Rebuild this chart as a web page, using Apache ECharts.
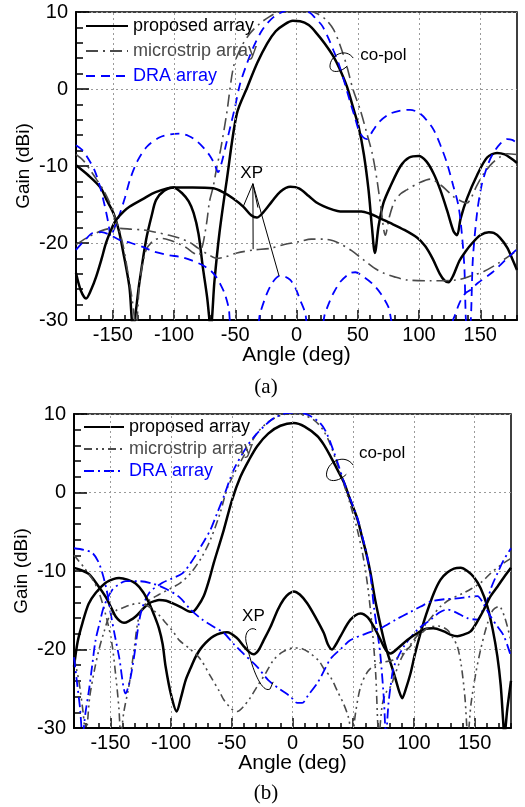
<!DOCTYPE html>
<html><head><meta charset="utf-8">
<script src="https://cdn.jsdelivr.net/npm/echarts@6/dist/echarts.min.js"></script>
<style>html,body{margin:0;padding:0;background:#fff}#c{width:525px;height:807px}</style>
</head><body><div id="c"></div>
<script>
// ---------- tick labels ----------
const xGridVals = [-150, -100, -50, 0, 50, 100, 150];
const legendNames = ['proposed array', 'microstrip array', 'DRA array'];

// ---------- (a) data : [angle deg, gain dBi] ----------
const aPropCo = [[-180,-9.9],[-170,-11.2],[-160,-12.8],[-155,-14.4],[-149.5,-16.1],[-145,-18.4],[-141.8,-20.9],[-136.4,-25.7],[-133.5,-31],[-128.3,-25.2],[-122.8,-19.6],[-118,-16.3],[-114.6,-14.4],[-108,-13.2],[-100.5,-12.8],[-93,-13.6],[-88,-14.6],[-84,-16.1],[-80,-18.8],[-76.5,-23.1],[-73,-27],[-70,-31],[-67,-25],[-62.9,-18.7],[-56.9,-11.8],[-48.7,-3.2],[-40,0.3],[-32,3.4],[-24,5.9],[-17,7.5],[-10.6,8.3],[-3,8.85],[3,8.8],[10,8.3],[16.6,7.2],[23,5.9],[30.2,4.2],[35,2.7],[41.2,0.3],[46,-2.3],[50.7,-4.9],[55,-8.5],[58.8,-13.1],[61.5,-17.8],[64,-21.3],[67,-17.8],[71,-14.8],[76.5,-12.7],[85,-10],[92,-8.9],[99.7,-8.7],[106,-9.4],[112,-11],[117.4,-13.1],[123,-15.8],[128,-18.4],[131,-19.0],[134,-16.8],[139.2,-14.2],[147.4,-11.2],[155.6,-8.9],[163.7,-8.3],[170,-8.5],[175,-9],[180,-9.6]];
const aPropXp = [[-180,-23.9],[-176,-26.2],[-171.8,-27.2],[-167.5,-26],[-163.6,-24.4],[-159,-22],[-155.5,-20],[-150,-17.8],[-147.3,-17],[-141,-15.9],[-136.4,-15.3],[-125.5,-14.3],[-115,-13.4],[-100.5,-12.8],[-85,-12.8],[-68,-12.9],[-60,-13.4],[-52,-14.2],[-43.3,-15.3],[-37,-16.4],[-32.4,-16.7],[-27,-16],[-20,-14.6],[-13,-13.3],[-5,-12.7],[2,-12.9],[10,-13.9],[16,-14.7],[22,-15.2],[30,-15.7],[35.7,-15.9],[45,-15.9],[53,-15.9],[60,-16.2],[67,-16.7],[76.5,-17.4],[88,-18.3],[98.3,-19.3],[105,-20.4],[111,-22],[117,-24],[121,-24.9],[124,-25.1],[128,-24.2],[133,-22.3],[138,-21.1],[143,-20.1],[150,-19],[157,-18.6],[161,-18.7],[166,-19.3],[172,-20.6],[176,-22],[180,-23.5]];
const aMicroCo = [[-180,-8.5],[-174,-9.3],[-168.5,-10.5],[-163,-11.8],[-157.7,-13.1],[-153,-14.6],[-149.5,-16.1],[-145,-18.2],[-141.3,-20.5],[-137,-24.5],[-134,-27.5],[-131,-31],[-128,-25],[-123,-21],[-117,-19.7],[-111,-19.4],[-104,-19.6],[-96,-20.1],[-90,-20.6],[-84,-21.3],[-80,-21.6],[-77,-20.5],[-75,-19],[-73,-17],[-71,-14.6],[-68,-12.7],[-65,-10.1],[-62,-7.9],[-57,-3.2],[-51.4,2.9],[-45,5.5],[-38,7.2],[-30,8.5],[-22,9.4],[-15,10],[-8,10.4],[5,10.4],[16.7,9.8],[24,9],[30.3,7.7],[36,5.5],[41.2,2.9],[46,0],[52,-2.7],[57.5,-5.8],[62,-8.5],[65.7,-11.8],[69,-15.5],[72.5,-19],[76,-16.5],[80,-14.6],[85,-13.6],[90,-13.1],[100,-12.2],[109.2,-11.7],[118,-12.5],[128.3,-14],[135,-14.6],[139.2,-14.8],[143,-14],[147,-12.6],[152.8,-11],[160,-9.6],[166.4,-8.8],[172,-8.4],[180,-8.5]];
const aMicroXp = [[-180,-20.2],[-172,-19.4],[-163.6,-18.7],[-155,-18.2],[-144.6,-18.1],[-135,-18.2],[-125.5,-18.3],[-115,-18.6],[-103.8,-19],[-95,-19.4],[-87.4,-19.9],[-80,-20.7],[-71,-21.6],[-65,-22],[-58,-21.8],[-48.7,-21.3],[-35,-20.9],[-21.5,-20.7],[-10,-20.2],[3,-19.8],[12,-19.5],[22,-19.5],[30,-19.7],[35.7,-20.1],[45,-21],[54.8,-22.2],[63,-23.2],[71,-23.9],[80,-24.4],[90,-24.8],[109,-24.9],[131,-24.8],[142,-24.3],[152.8,-23.7],[165,-22.6],[180,-21]];
const aDraCo = [[-180,-7.3],[-175,-7.9],[-171,-8.8],[-165,-10.5],[-160.4,-12.7],[-156.5,-15.2],[-153.6,-17.4],[-151.5,-19.2],[-149,-18.2],[-146,-17],[-144,-16.1],[-140,-14.1],[-136,-11.8],[-130,-9.4],[-122.2,-7.5],[-112,-6.3],[-103,-5.9],[-95,-5.8],[-88,-6.1],[-82,-6.7],[-76,-7.6],[-71,-8.6],[-67,-9.7],[-64,-10.8],[-61,-9.5],[-57.5,-7.2],[-54,-4.9],[-50,-2.2],[-46,0.7],[-40,3.5],[-35,5.5],[-29,7.4],[-24,8.5],[-19,9.3],[-14,9.8],[-6,10.3],[4,10.3],[11,9.9],[16,9.1],[21,8.2],[26,6.6],[30.2,5.0],[34,3.5],[38.4,1.3],[44,-1.8],[47.5,-3.6],[50.7,-5.3],[54,-6.2],[57.5,-6.5],[62,-5.5],[68,-4.2],[76.5,-3.2],[85,-2.8],[92.7,-2.7],[100,-3.1],[106,-4],[112,-5.3],[118,-7.5],[123,-9.7],[128,-12.6],[132,-15],[134.5,-18],[137,-23],[139,-30.8],[141.5,-30.8],[144,-22],[147.4,-16.1],[151,-12.6],[155.6,-10.1],[160,-8.5],[166.4,-7.1],[172,-6.5],[176,-6.6],[180,-7.0]];
const aDraXp = [[-180,-20.9],[-172,-19.5],[-166.4,-18.7],[-159,-18.6],[-152.8,-18.9],[-144.6,-19.6],[-135,-20],[-125.5,-20.5],[-116.8,-21.1],[-103.8,-21.6],[-94.9,-21.8],[-85,-22.3],[-76.5,-22.9],[-70,-23.6],[-65.6,-24.4],[-62,-25.4],[-58.8,-26.5],[-55.5,-28.3],[-52,-31],[-33,-31],[-29.7,-29.1],[-24,-26.5],[-19,-25],[-14,-24.3],[-9,-24.4],[-5.1,-24.8],[-1,-25.8],[3,-27.4],[7,-29],[10,-31],[20,-31],[23,-29.3],[26.5,-27.8],[30.2,-26.5],[36,-25],[43.9,-23.9],[48,-23.8],[54.8,-24.4],[62,-25.3],[68.4,-26.5],[75,-28.3],[81,-31],[124,-31],[128.3,-29.8],[133,-27.8],[138,-26.5],[141.9,-26.1],[148,-25.2],[160,-23.8],[170,-22.3],[180,-20.8]];

// ---------- (b) data ----------
const bPropCo = [[-180,-9.6],[-174,-9.9],[-167.6,-10.4],[-160,-11.9],[-153.9,-13.3],[-149,-14.8],[-145.7,-15.8],[-142,-16.4],[-138.8,-16.6],[-134,-16.3],[-129.2,-15.8],[-123,-14.8],[-118.1,-14.1],[-113,-13.8],[-109.9,-13.7],[-104,-13.8],[-99,-14.1],[-92,-14.6],[-86,-15.1],[-82.4,-15.2],[-78,-14.5],[-73.1,-13.2],[-69,-11.3],[-64.9,-9.0],[-60,-6.5],[-56.6,-4.75],[-49.7,-0.9],[-42.9,2.0],[-36,4.1],[-29.1,5.9],[-20,7.5],[-10,8.5],[1,8.85],[10,8.4],[20.4,7.2],[25.8,6.1],[31.3,4.6],[36,3.2],[42.3,1.3],[47,-0.7],[53.3,-3.3],[57.5,-5.8],[61,-7.9],[64.3,-10.3],[68,-13.6],[72.5,-16.9],[76.5,-19.5],[80.8,-21.7],[85,-23.8],[88,-25.4],[90.4,-26.2],[93,-25.2],[97.3,-23],[101,-20.5],[105.5,-17.9],[110,-15.6],[116.5,-12.8],[122,-11.1],[127.5,-10.2],[133,-9.7],[138.5,-9.6],[144,-10],[149.5,-10.8],[155,-12.2],[160.5,-14.5],[165,-17.5],[168.8,-20.9],[171.5,-24.5],[173.5,-29],[174.5,-31],[177,-27.5],[180,-24]];
const bPropXp = [[-180,-22.2],[-177,-19],[-173,-16.6],[-168,-14.2],[-162.2,-12.8],[-153.9,-11.5],[-147,-11],[-142.9,-10.9],[-136,-11.1],[-129.2,-11.6],[-123,-12.7],[-118.1,-14.1],[-114,-15.6],[-110,-17.3],[-107,-19.3],[-104.5,-22.2],[-100,-25.8],[-95.4,-27.9],[-92,-26.2],[-88,-23.9],[-84,-22.4],[-79.7,-20.9],[-74.2,-19.6],[-64.9,-18.3],[-53.9,-17.8],[-46,-18.5],[-40.1,-19.6],[-35,-20.4],[-31.9,-20.6],[-28,-20.1],[-24,-18.9],[-18.1,-17.1],[-12,-14.9],[-7.2,-13.6],[-3,-12.9],[1.1,-12.6],[6,-13],[12.1,-14.1],[19,-15.9],[25.8,-17.9],[29,-19.3],[32.5,-20],[36,-19.3],[39.6,-18.3],[47.8,-16.2],[56.1,-15.4],[62,-15.9],[67,-17.1],[72,-18.6],[77,-20.1],[80.8,-20.5],[87,-19.8],[94.6,-18.8],[102,-18],[109,-17.4],[116,-17.3],[124.7,-17.7],[130,-18.1],[135.8,-18.3],[141,-18.1],[146.7,-17.7],[152,-16.5],[157.7,-14.9],[163.2,-13.2],[168.8,-12],[174.2,-10.8],[180,-9.6]];
const bMicroCo = [[-180,-8],[-172,-9.5],[-165,-11],[-160,-12.5],[-154,-15.5],[-149,-19],[-145.5,-23.5],[-143,-27.5],[-141.5,-31],[-139,-28],[-134.6,-24.5],[-130.5,-20],[-126.4,-15.8],[-120,-14],[-110,-13],[-100,-12.2],[-92.3,-11.5],[-84,-10.3],[-75,-8.3],[-67.6,-6],[-60,-2.8],[-53.8,0.5],[-48.4,2.3],[-40,4.7],[-29,7.6],[-20,9.0],[-10,9.8],[0,10.1],[10,9.8],[18,9.2],[25,8.0],[31,6.2],[36,4.0],[42,1.2],[47,-1.2],[53,-4.5],[58,-8],[62,-12],[65.5,-17],[68.5,-23],[71.2,-31],[74,-27],[77,-25.5],[80.8,-24.7],[90,-21],[100,-18.8],[108.2,-17.1],[116,-15.6],[122,-14.5],[130,-13.6],[141,-12.8],[147,-12.3],[155,-11.5],[163.2,-10.3],[172,-9.2],[180,-8.4]];
const bMicroXp = [[-180,-21],[-176,-24],[-172.5,-28],[-170.3,-31],[-167,-26],[-163,-22.5],[-159.4,-20],[-155,-17.6],[-151.1,-15.9],[-145,-15],[-140,-14.7],[-133,-14.3],[-126.4,-14.1],[-120,-14.4],[-115.4,-14.9],[-110,-15.6],[-104.5,-16.6],[-98,-17.8],[-93.4,-18.8],[-84,-20],[-76,-21.2],[-67.6,-23.4],[-60,-25.4],[-56.6,-26.4],[-50,-27.6],[-45.6,-27.9],[-40,-27.2],[-35,-26.2],[-29.1,-24.7],[-22,-23],[-15.4,-21.3],[-8,-20.3],[1.1,-19.8],[8,-19.9],[14.8,-20.5],[22,-21.5],[26,-22.5],[31.3,-23.5],[37,-25.3],[42.3,-27],[46,-28.6],[49.2,-31],[52,-28],[56,-24.8],[62,-22.8],[70,-21.8],[83.5,-21.3],[94.6,-20],[103,-18.5],[111,-17.3],[120,-17],[127.5,-17.5],[132,-18.5],[135.8,-19.6],[139,-22],[142,-26],[144.5,-31],[147,-27],[151,-23],[155,-20],[160,-17],[165,-15],[170,-14.5],[175,-16],[180,-19]];
const bDraCo = [[-180,-7.1],[-172,-7.3],[-164.9,-7.7],[-160,-8.8],[-156.6,-10.3],[-153,-12.5],[-149.8,-15.4],[-146,-18.5],[-142.9,-20.9],[-137.4,-25.6],[-134,-24],[-130.5,-20.9],[-125,-15.4],[-118.1,-12.8],[-107.2,-11.5],[-100,-11],[-90.7,-10.3],[-84,-9],[-78.6,-7.7],[-74,-6.5],[-67.6,-4.75],[-62,-2.6],[-56.6,-0.5],[-48.4,2.9],[-37.4,5.9],[-30,7.4],[-23.7,8.4],[-15,9.5],[-5,10.1],[5,10.2],[14,9.8],[23,8.8],[28,7.6],[34,5.2],[38,3.4],[42.3,1.4],[47,-0.6],[53.3,-3.2],[57.5,-5.6],[61,-7.8],[64.3,-10.6],[67,-14.5],[70,-17.8],[72.5,-20.9],[75.3,-26.4],[77,-31],[79,-27],[80.8,-24.7],[83.5,-22.2],[91.8,-19.6],[102.8,-17.5],[113.8,-16.2],[121,-15.3],[127.5,-14.9],[135,-15.3],[144,-16],[152.3,-16.2],[156,-15.2],[160.5,-13.7],[164,-12],[168.8,-10.3],[174,-8.6],[180,-7.1]];
const bDraXp = [[-180,-21],[-177.3,-24.5],[-175,-27.5],[-173,-31],[-170.5,-28],[-167.6,-25.1],[-165,-22],[-162.2,-18.8],[-158.5,-16.4],[-155.3,-14.5],[-148.4,-12.4],[-142,-11.6],[-137.4,-11.3],[-126.4,-11.3],[-115.4,-11.6],[-104,-12.3],[-93.4,-13.3],[-84,-14.9],[-74.2,-16.2],[-65,-17.1],[-56.6,-17.9],[-48.4,-19.3],[-40,-20.6],[-29.1,-22.2],[-20,-23.9],[-10,-25.1],[-1.6,-26],[4,-26.8],[8,-26.8],[13,-25.8],[20.4,-24.3],[26,-22.7],[31.3,-21.2],[40,-19.9],[47.8,-18.8],[60,-18],[72.5,-17.3],[85,-16.2],[97.3,-15.2],[106,-14.5],[113.8,-13.9],[125,-13.6],[135.8,-13.5],[145,-13.3],[152.3,-13.2],[157,-14.1],[163.2,-15.8],[168.5,-17],[174.2,-18.3],[180,-20.9]];

// ---------- styling ----------
const FONT = '"Liberation Sans", Arial, Helvetica, sans-serif';
const SERIF = '"Liberation Serif", "Times New Roman", serif';
const BLACK = '#000000', GRAY = '#4a4a4a', BLUE = '#0000ff';

const chart = echarts.init(document.getElementById('c'), null, {renderer: 'canvas'});

function mk(name, data, color, width, dash, gi) {
  return {
    type: 'line', name: name, data: data, xAxisIndex: gi * 2, yAxisIndex: gi,
    symbol: 'none', showSymbol: false, smooth: 0.3, clip: true, silent: true, z: 3,
    lineStyle: {color: color, width: width, type: dash}, itemStyle: {color: color},
    emphasis: {disabled: true}
  };
}
function gridLines(gi) {
  return {
    type: 'line', name: 'grid' + gi, data: [], xAxisIndex: gi * 2, yAxisIndex: gi, z: 1, silent: true,
    markLine: {silent: true, symbol: ['none', 'none'], animation: false, label: {show: false},
      lineStyle: {color: '#9a9a9a', type: [2, 3], width: 1},
      data: xGridVals.map(v => ({xAxis: v}))}
  };
}
function xAxes(gi) {
  return [{
    gridIndex: gi, type: 'value', min: -180, max: 180, interval: 10,
    axisLine: {show: true, onZero: false, lineStyle: {color: BLACK, width: 2}},
    axisTick: {show: true, inside: true, length: 5, lineStyle: {color: BLACK, width: 1.5}},
    axisLabel: {formatter: v => (v % 50 === 0 ? String(v) : ''), color: BLACK, fontSize: 20, fontFamily: FONT, margin: 5},
    splitLine: {show: false},
    name: 'Angle (deg)', nameLocation: 'middle', nameGap: 25, nameMoveOverlap: false,
    nameTextStyle: {color: BLACK, fontSize: 21, fontFamily: FONT}
  }, {
    gridIndex: gi, type: 'value', min: -180, max: 180, interval: 10, position: 'bottom',
    axisLine: {show: false, onZero: false},
    axisTick: {show: true, inside: true, length: 10, customValues: xGridVals, lineStyle: {color: BLACK, width: 1.5}},
    axisLabel: {show: false}, splitLine: {show: false}
  }];
}
function yAxis(gi) {
  return {
    gridIndex: gi, type: 'value', min: -30, max: 10, interval: 10,
    axisLine: {show: true, onZero: false, lineStyle: {color: BLACK, width: 2}},
    axisTick: {show: true, inside: true, length: 13, lineStyle: {color: BLACK, width: 1.5}},
    minorTick: {show: true, splitNumber: 5, length: 7, lineStyle: {color: BLACK, width: 1.5}},
    axisLabel: {color: BLACK, fontSize: 20, fontFamily: FONT, margin: 8},
    splitLine: {show: true, lineStyle: {color: '#9a9a9a', type: [2, 3], width: 1}},
    name: 'Gain (dBi)', nameLocation: 'middle', nameGap: 43, nameRotate: 90, nameMoveOverlap: false,
    nameTextStyle: {color: BLACK, fontSize: 19, fontFamily: FONT}
  };
}
function legend(gi, left, top, gap, width, suffix) {
  const cols = [BLACK, GRAY, BLUE];
  return {
    orient: 'vertical', left: left, top: top, itemWidth: width, itemHeight: 12, itemGap: gap,
    selectedMode: false, padding: 0,
    itemStyle: {color: 'transparent', borderWidth: 0, opacity: 0},
    formatter: n => n.replace(suffix, ''),
    textStyle: {fontSize: 18, fontFamily: FONT, lineHeight: 18, padding: [0, 0, 0, 0]},
    data: legendNames.map((n, i) => ({name: n + suffix, textStyle: {color: cols[i]}}))
  };
}

const SB = ' (b)';
const option = {
  animation: false,
  backgroundColor: '#ffffff',
  grid: [
    {left: 76, top: 12, width: 441, height: 308, show: true, borderColor: BLACK, borderWidth: 1.5, backgroundColor: 'transparent'},
    {left: 74, top: 414, width: 437, height: 314, show: true, borderColor: BLACK, borderWidth: 1.5, backgroundColor: 'transparent'}
  ],
  xAxis: [...xAxes(0), ...xAxes(1)],
  yAxis: [yAxis(0), yAxis(1)],
  legend: [legend(0, 85, 17, 7, 42, ''), legend(1, 83, 418, 4, 40, SB)],
  series: [
    gridLines(0), gridLines(1),
    mk('proposed array', aPropCo, BLACK, 2.5, 'solid', 0),
    mk('microstrip array', aMicroCo, GRAY, 1.6, [12, 5, 2, 5], 0),
    mk('DRA array', aDraCo, BLUE, 1.8, [9, 6], 0),
    mk('proposed array', aPropXp, BLACK, 2.5, 'solid', 0),
    mk('microstrip array', aMicroXp, GRAY, 1.6, [12, 5, 2, 5], 0),
    mk('DRA array', aDraXp, BLUE, 1.8, [9, 6], 0),
    mk('proposed array' + SB, bPropCo, BLACK, 2.5, 'solid', 1),
    mk('microstrip array' + SB, bMicroCo, GRAY, 1.6, [8, 4, 2, 4, 2, 4], 1),
    mk('DRA array' + SB, bDraCo, BLUE, 1.8, [10, 4, 2, 4], 1),
    mk('proposed array' + SB, bPropXp, BLACK, 2.5, 'solid', 1),
    mk('microstrip array' + SB, bMicroXp, GRAY, 1.6, [8, 4, 2, 4, 2, 4], 1),
    mk('DRA array' + SB, bDraXp, BLUE, 1.8, [10, 4, 2, 4], 1)
  ]
};
chart.setOption(option);

// ---------- annotations anchored in data coordinates ----------
function P(gi, pt) { return chart.convertToPixel({gridIndex: gi}, pt); }
const g = [];
const thin = {stroke: BLACK, lineWidth: 1, fill: null};
function curl(c, s) {
  g.push({type: 'bezierCurve', silent: true, z: 10, shape: {x1: c[0] + 11 * s, y1: c[1] - 4 * s, cpx1: c[0] + 4 * s, cpy1: c[1] - 14 * s, cpx2: c[0] - 10 * s, cpy2: c[1] - 8 * s, x2: c[0] - 12 * s, y2: c[1] + 2 * s}, style: thin});
  g.push({type: 'bezierCurve', silent: true, z: 10, shape: {x1: c[0] - 12 * s, y1: c[1] + 2 * s, cpx1: c[0] - 14 * s, cpy1: c[1] + 11 * s, cpx2: c[0] - 3 * s, cpy2: c[1] + 12 * s, x2: c[0] + 5 * s, y2: c[1] + 4 * s}, style: thin});
}
function label(p, text, align) {
  g.push({type: 'text', silent: true, z: 10, x: p[0], y: p[1], style: {text: text, fontSize: 17, fontFamily: FONT, fill: BLACK, align: align, verticalAlign: 'middle'}});
}
// (a)
curl(P(0, [37.3, 3.5]), 1);
label(P(0, [52, 4.4]), 'co-pol', 'left');
label(P(0, [-36.6, -11.0]), 'XP', 'center');
const apex = P(0, [-35.6, -12.3]);
[[-43.3, -15.2], [-31.5, -15.4], [-35.4, -20.8], [-14.2, -24.3]].forEach(e => {
  const q = P(0, e);
  g.push({type: 'line', silent: true, z: 10, shape: {x1: apex[0], y1: apex[1], x2: q[0], y2: q[1]}, style: {stroke: BLACK, lineWidth: 1}});
});
// (b)
curl(P(1, [39.6, 2.9]), 1.15);
label(P(1, [54.7, 5.0]), 'co-pol', 'left');
label(P(1, [-32.2, -15.8]), 'XP', 'center');
const h = P(1, [-31.6, -17.5]);
g.push({type: 'bezierCurve', silent: true, z: 10, shape: {x1: h[0] + 2, y1: h[1], cpx1: h[0] - 3, cpy1: h[1] - 4, cpx2: h[0] - 12, cpy2: h[1] + 2, x2: h[0] - 7, y2: h[1] + 16}, style: thin});
g.push({type: 'bezierCurve', silent: true, z: 10, shape: {x1: h[0] - 7, y1: h[1] + 16, cpx1: h[0] - 2, cpy1: h[1] + 40, cpx2: h[0] + 8, cpy2: h[1] + 64, x2: h[0] + 16, y2: h[1] + 59}, style: thin});
g.push({type: 'line', silent: true, z: 10, shape: {x1: h[0] + 16, y1: h[1] + 59, x2: h[0] + 19, y2: h[1] + 52}, style: {stroke: BLACK, lineWidth: 1}});
// captions
g.push({type: 'text', silent: true, x: 266, y: 387, style: {text: '(a)', fontSize: 21, fontFamily: SERIF, fill: BLACK, align: 'center', verticalAlign: 'middle'}});
g.push({type: 'text', silent: true, x: 266, y: 793, style: {text: '(b)', fontSize: 21, fontFamily: SERIF, fill: BLACK, align: 'center', verticalAlign: 'middle'}});
chart.setOption({graphic: g});
</script>
</body></html>
